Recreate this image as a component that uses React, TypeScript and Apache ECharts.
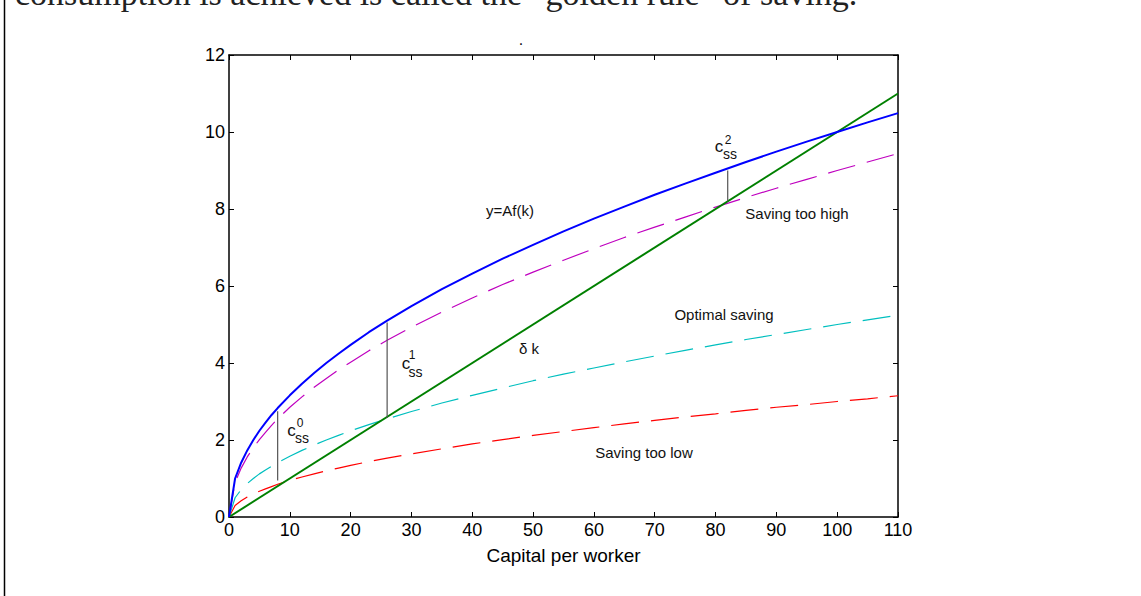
import React, { useEffect, useRef } from "react";
import * as echarts from "echarts";

// Capital per worker (k) sample points
const kValues = [0, 1, 2, 3, 4, 5, 6, 7, 8, 10, 12, 14, 16, 18, 20, 23, 26, 30, 35, 40, 45, 50, 55, 60, 65, 70, 75, 80, 85, 90, 95, 100, 105, 110];
// y = Af(k)
const output = [0, 1.0, 1.41, 1.73, 2.0, 2.24, 2.45, 2.65, 2.83, 3.16, 3.46, 3.74, 4.0, 4.24, 4.47, 4.8, 5.1, 5.48, 5.92, 6.32, 6.71, 7.07, 7.42, 7.75, 8.06, 8.37, 8.66, 8.94, 9.22, 9.49, 9.75, 10.0, 10.25, 10.49];
// Saving too high
const savingHigh = [0, 0.9, 1.27, 1.56, 1.8, 2.01, 2.2, 2.38, 2.55, 2.85, 3.12, 3.37, 3.6, 3.82, 4.02, 4.32, 4.59, 4.93, 5.32, 5.69, 6.04, 6.36, 6.67, 6.97, 7.26, 7.53, 7.79, 8.05, 8.3, 8.54, 8.77, 9.0, 9.22, 9.44];
// Optimal saving
const savingOptimal = [0, 0.5, 0.71, 0.87, 1.0, 1.12, 1.22, 1.32, 1.41, 1.58, 1.73, 1.87, 2.0, 2.12, 2.24, 2.4, 2.55, 2.74, 2.96, 3.16, 3.35, 3.54, 3.71, 3.87, 4.03, 4.18, 4.33, 4.47, 4.61, 4.74, 4.87, 5.0, 5.12, 5.24];
// Saving too low
const savingLow = [0, 0.3, 0.42, 0.52, 0.6, 0.67, 0.73, 0.79, 0.85, 0.95, 1.04, 1.12, 1.2, 1.27, 1.34, 1.44, 1.53, 1.64, 1.77, 1.9, 2.01, 2.12, 2.22, 2.32, 2.42, 2.51, 2.6, 2.68, 2.77, 2.85, 2.92, 3.0, 3.07, 3.15];
// delta k (depreciation line)
const depK = [0, 110];
const depY = [0, 11];
// steady-state consumption segments [k, yLow, yHigh]
const css0 = [8, 0.95, 2.75];
const css1 = [26, 2.57, 5.05];
const css2 = [82, 8.2, 9.0];

const xTicks = { min: 0, max: 110, interval: 10 };
const yTicks = { min: 0, max: 12, interval: 2 };

const SANS = "'Liberation Sans', Arial, Helvetica, sans-serif";

function pairs(xs: number[], ys: number[]) {
  return xs.map((x, i) => [x, ys[i]]);
}

export default function App() {
  const ref = useRef<HTMLDivElement>(null);
  useEffect(() => {
    if (!ref.current) return;
    const chart = echarts.init(ref.current, null, { renderer: "svg" });
    const axisCommon = {
      type: "value" as const,
      axisLine: { show: true, onZero: false, lineStyle: { color: "#000", width: 1.5 } },
      axisTick: { show: true, inside: true, length: 5, lineStyle: { color: "#000", width: 1 } },
      splitLine: { show: false },
    };
    const segLine = (seg: number[]) => ({
      type: "line",
      data: [[seg[0], seg[1]], [seg[0], seg[2]]],
      showSymbol: false,
      symbol: "none",
      lineStyle: { color: "#555", width: 1.2 },
      silent: true,
      xAxisIndex: 0,
      yAxisIndex: 0,
    });
    const txt = (x: number, y: number, text: string, size: number) => ({
      type: "text",
      x,
      y,
      style: {
        text,
        fontSize: size,
        fontFamily: SANS,
        fill: "#111",
        align: "center",
        verticalAlign: "middle",
      },
    });
    chart.setOption({
      animation: false,
      backgroundColor: "#fff",
      grid: { left: 229, right: 243, top: 55, bottom: 79, containLabel: false },
      xAxis: [
        {
          ...axisCommon,
          position: "bottom",
          ...xTicks,
          axisLabel: { color: "#000", fontSize: 18, fontFamily: SANS, margin: 4 },
          name: "Capital per worker",
          nameLocation: "middle",
          nameGap: 29,
          nameTextStyle: { color: "#000", fontSize: 19, fontFamily: SANS },
        },
        {
          ...axisCommon,
          position: "top",
          ...xTicks,
          axisLabel: { show: false },
        },
      ],
      yAxis: [
        {
          ...axisCommon,
          position: "left",
          ...yTicks,
          axisLabel: { color: "#000", fontSize: 18, fontFamily: SANS, margin: 4 },
        },
        {
          ...axisCommon,
          position: "right",
          ...yTicks,
          axisLabel: { show: false },
        },
      ],
      series: [
        {
          name: "Saving too low",
          type: "line",
          data: pairs(kValues, savingLow),
          symbol: "none",
          lineStyle: { color: "#ff0000", width: 1.2, type: [28, 12] },
        },
        {
          name: "Optimal saving",
          type: "line",
          data: pairs(kValues, savingOptimal),
          symbol: "none",
          lineStyle: { color: "#00bfbf", width: 1.2, type: [28, 12] },
        },
        {
          name: "Saving too high",
          type: "line",
          data: pairs(kValues, savingHigh),
          symbol: "none",
          lineStyle: { color: "#bf00bf", width: 1.2, type: [28, 12] },
        },
        {
          name: "δ k",
          type: "line",
          data: pairs(depK, depY),
          symbol: "none",
          lineStyle: { color: "#008000", width: 2 },
        },
        {
          name: "y=Af(k)",
          type: "line",
          data: pairs(kValues, output),
          symbol: "none",
          lineStyle: { color: "#0000ff", width: 2 },
        },
        segLine(css0),
        segLine(css1),
        segLine(css2),
      ],
      graphic: [
        {
          type: "line",
          shape: { x1: 4.5, y1: 0, x2: 4.5, y2: 596 },
          style: { stroke: "#000", lineWidth: 1.5 },
        },
        {
          type: "text",
          x: 15,
          y: -24,
          style: {
            text: "consumption is achieved is called the \u201cgolden rule\u201d of saving.",
            fontSize: 34,
            fontFamily: "'Liberation Serif', 'Times New Roman', serif",
            fill: "#222",
            align: "left",
            verticalAlign: "top",
          },
        },
        txt(521, 39, ".", 16),
        txt(510, 210, "y=Af(k)", 15),
        txt(797, 213, "Saving too high", 15),
        txt(724, 314, "Optimal saving", 15),
        txt(529, 348, "\u03b4 k", 15),
        txt(644, 452, "Saving too low", 15),
        txt(291.5, 430, "c", 17),
        txt(302, 438, "ss", 14),
        txt(300, 423, "0", 12),
        txt(406, 363.5, "c", 17),
        txt(415.5, 372, "ss", 14),
        txt(412, 355, "1", 12),
        txt(719, 146.5, "c", 17),
        txt(730, 154, "ss", 14),
        txt(728, 139.5, "2", 12),
      ],
    });
    return () => chart.dispose();
  }, []);
  return (
    <div
      ref={ref}
      style={{ position: "fixed", left: 0, top: 0, width: 1141, height: 596 }}
    />
  );
}
